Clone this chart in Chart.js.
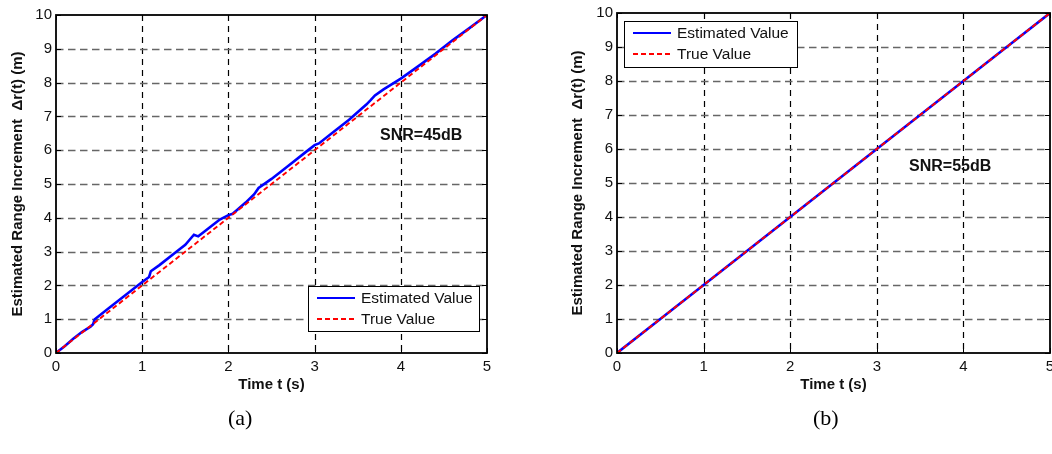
<!DOCTYPE html>
<html>
<head>
<meta charset="utf-8">
<script src="https://cdn.jsdelivr.net/npm/chart.js@4/dist/chart.umd.min.js"></script>
<style>
  html, body { margin: 0; padding: 0; background: #fff; }
  #wrap { position: relative; width: 1052px; height: 454px; overflow: hidden; }
  .panel { position: absolute; top: 0; width: 526px; height: 454px; }
  .cap { position: absolute; font-family: "Liberation Serif", "Times New Roman", serif; font-size: 22px; color: #000; line-height: 1; }
</style>
</head>
<body>
<div id="wrap">
  <div class="panel" style="left:0"><canvas id="chartA" width="526" height="454"></canvas></div>
  <div class="panel" style="left:526px"><canvas id="chartB" width="526" height="454"></canvas></div>
  <div class="cap" style="left:228px;top:407px">(a)</div>
  <div class="cap" style="left:813px;top:407px">(b)</div>
</div>
<script>
// ---- data ----
const xTicks = [0, 1, 2, 3, 4, 5];
const yTicks = [0, 1, 2, 3, 4, 5, 6, 7, 8, 9, 10];
const seriesNames = ['Estimated Value', 'True Value'];
const snrLabels = ['SNR=45dB', 'SNR=55dB'];
const xTitle = 'Time t (s)';
const yTitle = 'Estimated Range Increment  \u0394r(t) (m)';

// true range increment (same for both panels)
const timeTrue = [0, 5];
const trueValue = [0, 10];

// panel (a): estimate at SNR = 45 dB
const timeA = [0, 0.1, 0.2, 0.3, 0.4, 0.43, 0.45, 0.6, 0.8, 1.0, 1.08, 1.1, 1.2, 1.4, 1.5, 1.55, 1.6,
               1.65, 1.7, 1.8, 1.9, 2.0, 2.05, 2.2, 2.3, 2.35, 2.5, 2.7, 2.9, 3.0, 3.05, 3.2, 3.4,
               3.6, 3.65, 3.7, 3.8, 4.0, 4.2, 4.4, 4.6, 4.8, 5.0];
const estimatedA = [0, 0.2, 0.42, 0.62, 0.78, 0.85, 1.0, 1.3, 1.7, 2.1, 2.25, 2.42, 2.6, 3.0, 3.2, 3.35, 3.5,
                    3.45, 3.55, 3.75, 3.95, 4.08, 4.12, 4.45, 4.7, 4.88, 5.15, 5.55, 5.95, 6.15, 6.2, 6.5, 6.9,
                    7.35, 7.48, 7.62, 7.8, 8.12, 8.48, 8.85, 9.25, 9.62, 10];

// panel (b): estimate at SNR = 55 dB
const timeB = [0, 0.5, 1.0, 1.5, 2.0, 2.5, 3.0, 3.5, 4.0, 4.5, 5.0];
const estimatedB = [0, 1.0, 2.0, 3.0, 4.0, 5.0, 6.0, 7.0, 8.0, 9.0, 10];

// ---- helpers ----
const FONT = '"Liberation Sans", Arial, Helvetica, sans-serif';
Chart.defaults.font.family = FONT;

function points(xs, ys) { return xs.map((x, i) => ({ x, y: ys[i] })); }

// MATLAB-style frame: dashed grid, inward ticks, boxed legend, annotation
const matlabFrame = {
  id: 'matlabFrame',
  beforeDatasetsDraw(chart) {
    const { ctx, chartArea: a, scales: { x, y } } = chart;
    ctx.save();
    ctx.lineWidth = 1.2;
    ctx.strokeStyle = '#000';
    ctx.setLineDash([6, 5]);
    xTicks.slice(1, -1).forEach(v => {
      const px = Math.round(x.getPixelForValue(v)) + 0.5;
      ctx.beginPath(); ctx.moveTo(px, a.top); ctx.lineTo(px, a.bottom); ctx.stroke();
    });
    ctx.strokeStyle = '#666';
    ctx.lineWidth = 1.5;
    ctx.setLineDash([7.5, 4.5]);
    yTicks.slice(1, -1).forEach(v => {
      const py = Math.round(y.getPixelForValue(v)) + 0.5;
      ctx.beginPath(); ctx.moveTo(a.left, py); ctx.lineTo(a.right, py); ctx.stroke();
    });
    ctx.restore();
  },
  afterDatasetsDraw(chart, args, opts) {
    const { ctx, chartArea: a, scales: { x, y } } = chart;
    ctx.save();
    // inward tick marks
    ctx.setLineDash([]);
    ctx.strokeStyle = '#000';
    ctx.lineWidth = 1;
    const tl = 5;
    xTicks.forEach(v => {
      const px = Math.round(x.getPixelForValue(v)) + 0.5;
      ctx.beginPath();
      ctx.moveTo(px, a.bottom); ctx.lineTo(px, a.bottom - tl);
      ctx.moveTo(px, a.top); ctx.lineTo(px, a.top + tl);
      ctx.stroke();
    });
    yTicks.forEach(v => {
      const py = Math.round(y.getPixelForValue(v)) + 0.5;
      ctx.beginPath();
      ctx.moveTo(a.left, py); ctx.lineTo(a.left + tl, py);
      ctx.moveTo(a.right, py); ctx.lineTo(a.right - tl, py);
      ctx.stroke();
    });
    // axes box
    ctx.lineWidth = 1.8;
    ctx.strokeRect(a.left, a.top, a.right - a.left, a.bottom - a.top);

    // annotation
    const s = opts.snr;
    ctx.fillStyle = '#111';
    ctx.font = 'bold 16px ' + FONT;
    ctx.textAlign = 'left';
    ctx.textBaseline = 'middle';
    ctx.fillText(s.text, s.x, s.y);

    // legend box
    const L = opts.legend;
    ctx.fillStyle = '#fff';
    ctx.fillRect(L.x, L.y, L.w, L.h);
    ctx.lineWidth = 1;
    ctx.strokeStyle = '#000';
    ctx.strokeRect(L.x + 0.5, L.y + 0.5, L.w, L.h);
    const rows = [L.y + 12, L.y + 33];
    chart.data.datasets.forEach((ds, i) => {
      const ry = rows[i];
      ctx.strokeStyle = ds.borderColor;
      ctx.lineWidth = 2;
      ctx.setLineDash(ds.borderDash || []);
      ctx.beginPath(); ctx.moveTo(L.x + 9, ry); ctx.lineTo(L.x + 47, ry); ctx.stroke();
      ctx.setLineDash([]);
      ctx.fillStyle = '#111';
      ctx.font = '15.5px ' + FONT;
      ctx.fillText(ds.label, L.x + 53, ry + 1);
    });
    ctx.restore();
  }
};

function makeChart(canvasId, tEst, vEst, cfg) {
  return new Chart(document.getElementById(canvasId), {
    type: 'line',
    data: {
      datasets: [
        {
          label: seriesNames[0],
          data: points(tEst, vEst),
          borderColor: '#0000ff',
          borderWidth: 2.6,
          pointRadius: 0,
          tension: 0,
          order: 1
        },
        {
          label: seriesNames[1],
          data: points(timeTrue, trueValue),
          borderColor: '#ff0000',
          borderWidth: 1.9,
          borderDash: [5, 3],
          pointRadius: 0,
          tension: 0,
          order: 0
        }
      ]
    },
    options: {
      responsive: false,
      animation: false,
      events: [],
      layout: { padding: cfg.padding, autoPadding: false },
      plugins: {
        legend: { display: false },
        tooltip: { enabled: false },
        matlabFrame: { legend: cfg.legend, snr: cfg.snr }
      },
      scales: {
        x: {
          type: 'linear', min: 0, max: 5,
          grid: { display: false, drawTicks: false },
          border: { display: false },
          ticks: { stepSize: 1, padding: 5, color: '#111', font: { size: 15 } },
          title: { display: true, text: xTitle, color: '#111', font: { size: 15, weight: 'bold' }, padding: 4 },
          afterFit(scale) { scale.height = 45; scale.paddingLeft = 0; scale.paddingRight = 0; }
        },
        y: {
          type: 'linear', min: 0, max: 10,
          grid: { display: false, drawTicks: false },
          border: { display: false },
          ticks: { stepSize: 1, padding: 4, color: '#111', font: { size: 15 } },
          title: { display: true, text: yTitle, color: '#111', font: { size: 15, weight: 'bold' }, padding: 4 },
          afterFit(scale) { scale.width = cfg.yWidth; scale.paddingTop = 0; scale.paddingBottom = 0; }
        }
      }
    },
    plugins: [matlabFrame]
  });
}

makeChart('chartA', timeA, estimatedA, {
  padding: { left: 5, top: 15, right: 39, bottom: 56 },
  yWidth: 51,
  legend: { x: 308, y: 286, w: 171, h: 45 },
  snr: { text: snrLabels[0], x: 380, y: 136 }
});

makeChart('chartB', timeB, estimatedB, {
  padding: { left: 39, top: 13, right: 2, bottom: 56 },
  yWidth: 52,
  legend: { x: 98, y: 21, w: 173, h: 46 },
  snr: { text: snrLabels[1], x: 383, y: 167 }
});
</script>
</body>
</html>
